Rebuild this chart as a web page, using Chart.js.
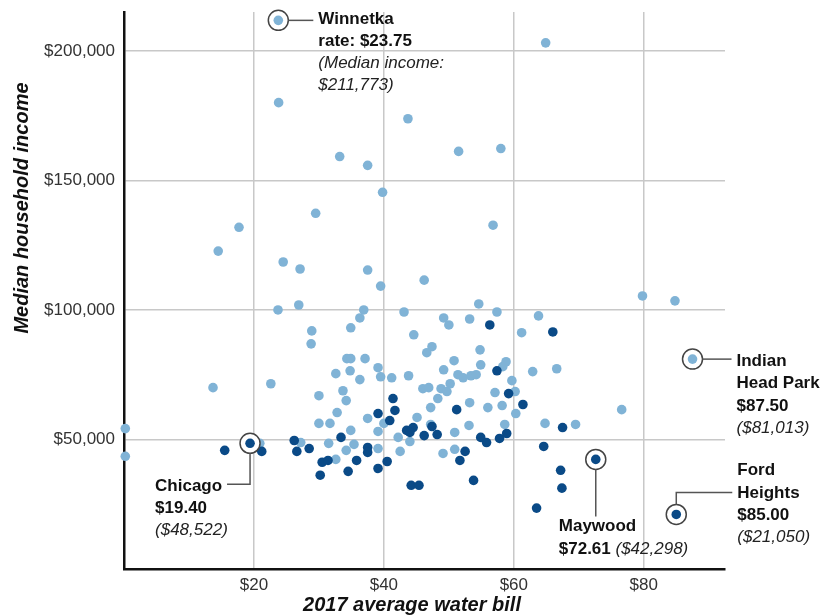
<!DOCTYPE html>
<html>
<head>
<meta charset="utf-8">
<title>Water bill vs. median income</title>
<script src="https://cdn.jsdelivr.net/npm/chart.js@4.4.1/dist/chart.umd.min.js"></script>
<style>
  html, body { margin: 0; padding: 0; background: #fff; }
  #wrap { width: 824px; height: 616px; position: relative; }
</style>
</head>
<body>
<div id="wrap"><canvas id="waterChart"></canvas></div>
<script>
// Municipalities, light dots (2017 average water bill in $, median household income in $)
const lightBill = [
  0.2, 0.2, 13.7, 22.6, 23.7, 26.9, 28.9, 28.8, 36.9, 36.3,
  34.9, 39.5, 43.1, 44.6, 34.3, 34.9, 37.1, 32.6, 34.8, 36.3,
  39.1, 39.5, 41.2, 43.8, 33.7, 34.2, 30.0, 32.8, 37.5, 40.0,
  30.0, 31.7, 34.9, 39.1, 20.9, 27.2, 31.5, 34.2, 35.4, 39.1,
  32.6, 42.5, 42.2, 44.0, 45.1, 47.2, 47.2, 48.3, 50.9, 50.9,
  49.1, 53.1, 49.2, 50.0, 53.2, 47.4, 46.6, 50.8, 49.2, 51.4,
  52.2, 53.4, 54.2, 46.0, 46.9, 48.8, 50.2, 49.7, 54.6, 57.4,
  63.8, 61.2, 54.8, 54.9, 58.8, 58.3, 62.9, 66.6, 59.7, 57.1,
  60.2, 53.2, 56.0, 58.2, 60.3, 58.6, 64.8, 69.5, 76.6, 79.8,
  84.8, 23.8, 43.7, 33.2, 37.5, 39.8, 29.5, 17.7, 14.5, 24.5,
  27.1, 37.5, 64.9, 51.5, 58.0, 56.8, 46.2
];
const lightIncome = [
  54200, 43500, 70000, 71500, 100000, 101900, 91900, 86900, 100000, 96900,
  93100, 109200, 99200, 90400, 81200, 81200, 81200, 75400, 76500, 73100,
  77700, 74200, 73800, 74600, 68800, 65000, 66900, 60400, 58100, 56200,
  56200, 56200, 53500, 53100, 48500, 48800, 48500, 45800, 48100, 46500,
  42300, 45400, 50800, 49200, 58500, 55800, 62300, 65800, 52700, 46200,
  44600, 55400, 96900, 94200, 96500, 85800, 83500, 80400, 76900, 75000,
  73800, 74600, 75000, 69600, 70000, 69600, 71500, 68500, 102300, 99200,
  97700, 91200, 84600, 78800, 80000, 78100, 76200, 77300, 72700, 68100,
  68500, 64200, 62300, 63100, 60000, 55800, 56200, 55800, 61500, 105400,
  103500, 180000, 173800, 159200, 155800, 145400, 137300, 131900, 122700, 118500,
  115800, 115400, 203100, 161200, 162300, 132700, 111500
];

// Municipalities, dark dots
const darkBill = [
  15.5, 21.2, 26.2, 26.6, 28.5, 30.5, 31.4, 30.2, 33.4, 35.8,
  34.5, 37.5, 37.5, 39.1, 40.5, 39.1, 40.9, 41.7, 41.4, 43.5,
  44.5, 44.0, 46.2, 47.4, 48.2, 51.2, 51.7, 52.5, 44.2, 45.4,
  53.8, 54.9, 55.8, 57.8, 58.9, 57.4, 59.2, 61.4, 56.3, 66.0,
  67.5, 64.6, 67.2, 67.4, 63.5
];
const darkIncome = [
  45800, 45400, 49600, 45400, 46500, 41200, 41900, 36200, 50800, 41900,
  37700, 46900, 45000, 38800, 41500, 60000, 57300, 61200, 65800, 53500,
  54600, 52700, 51500, 55000, 51900, 61500, 41900, 45400, 32300, 32300,
  34200, 50800, 48800, 50400, 52300, 76500, 67700, 63500, 94200, 91500,
  54600, 47300, 38100, 31200, 23500
];

// Labelled places
const placeNames = ['Winnetka', 'Chicago', 'Maywood', 'Indian Head Park', 'Ford Heights'];
const placeBill = [23.75, 19.40, 72.61, 87.50, 85.00];
const placeIncome = [211773, 48522, 42298, 81013, 21050];
const placeDark = [false, true, true, false, true];

// Tick values
const xTicks = [20, 40, 60, 80];
const yTicks = [50000, 100000, 150000, 200000];

const FONT = "'Liberation Sans', Arial, Helvetica, sans-serif";
const LIGHT = '#80b3d6';
const DARK = '#0a4a87';

Chart.defaults.font.family = FONT;

const fmtBill = v => '$' + v.toFixed(2);
const fmtIncome = v => '$' + v.toLocaleString('en-US');
const toPoints = (xs, ys) => xs.map((x, i) => ({ x: x, y: ys[i] }));

// Where each label sits relative to its dot (pixels)
function labelLayout(i) {
  const b = fmtBill(placeBill[i]);
  const inc = fmtIncome(placeIncome[i]);
  switch (placeNames[i]) {
    case 'Winnetka':
      return { path: [[10, 0], [35, 0]], x: 40,
        lines: [[4, [['b', 'Winnetka']]], [26, [['b', 'rate: ' + b]]],
                [48, [['i', '(Median income:']]], [70, [['i', inc + ')']]]] };
    case 'Chicago':
      return { path: [[0, 10], [0, 41], [-23, 41]], x: -95,
        lines: [[48, [['b', 'Chicago']]], [70, [['b', b]]], [92, [['i', '(' + inc + ')']]]] };
    case 'Maywood':
      return { path: [[0, 10], [0, 57]], x: -37,
        lines: [[72, [['b', 'Maywood']]], [95, [['b', b], ['i', ' (' + inc + ')']]]] };
    case 'Indian Head Park':
      return { path: [[10, 0], [39, 0]], x: 44,
        lines: [[7, [['b', 'Indian']]], [29, [['b', 'Head Park']]], [52, [['b', b]]], [74, [['i', '(' + inc + ')']]]] };
    case 'Ford Heights':
      return { path: [[0, -10], [0, -22], [56, -22]], x: 61,
        lines: [[-39, [['b', 'Ford']]], [-16, [['b', 'Heights']]], [6, [['b', b]]], [28, [['i', '(' + inc + ')']]]] };
  }
}

const labelPlugin = {
  id: 'placeLabels',
  afterDatasetsDraw(chart) {
    const { ctx, scales: { x, y } } = chart;
    ctx.save();
    placeNames.forEach((name, i) => {
      const px = x.getPixelForValue(placeBill[i]);
      const py = y.getPixelForValue(placeIncome[i]);
      const lay = labelLayout(i);
      ctx.strokeStyle = '#555';
      ctx.lineWidth = 1.5;
      ctx.beginPath();
      lay.path.forEach((p, k) => {
        if (k === 0) ctx.moveTo(px + p[0], py + p[1]);
        else ctx.lineTo(px + p[0], py + p[1]);
      });
      ctx.stroke();
      ctx.textAlign = 'left';
      ctx.textBaseline = 'alphabetic';
      lay.lines.forEach(([dy, parts]) => {
        let tx = px + lay.x;
        parts.forEach(([style, text]) => {
          ctx.font = (style === 'b' ? 'bold ' : 'italic ') + '17px ' + FONT;
          ctx.fillStyle = style === 'b' ? '#111' : '#222';
          ctx.fillText(text, tx, py + dy);
          tx += ctx.measureText(text).width;
        });
      });
    });
    ctx.restore();
  },
  afterDraw(chart) {
    const { ctx, chartArea } = chart;
    ctx.save();
    ctx.font = 'italic bold 20px ' + FONT;
    ctx.fillStyle = '#111';
    ctx.textAlign = 'center';
    ctx.textBaseline = 'middle';
    ctx.fillText('2017 average water bill', chartArea.left + 288, chartArea.bottom + 36);
    ctx.translate(22, chartArea.top + 196);
    ctx.rotate(-Math.PI / 2);
    ctx.fillText('Median household income', 0, 0);
    ctx.restore();
  }
};

const ctx = document.getElementById('waterChart').getContext('2d');
new Chart(ctx, {
  type: 'scatter',
  data: {
    datasets: [
      {
        label: 'highlight',
        data: toPoints(placeBill, placeIncome),
        pointRadius: 4.8,
        pointBackgroundColor: placeDark.map(d => d ? DARK : LIGHT),
        pointBorderWidth: 0,
        order: 1,
        clip: false
      },
      {
        label: 'rings',
        data: toPoints(placeBill, placeIncome),
        pointRadius: 10,
        pointBackgroundColor: '#fff',
        pointBorderColor: '#444',
        pointBorderWidth: 1.5,
        order: 2,
        clip: false
      },
      {
        label: 'dark',
        data: toPoints(darkBill, darkIncome),
        pointRadius: 4.8,
        pointBackgroundColor: DARK,
        pointBorderWidth: 0,
        order: 3,
        clip: false
      },
      {
        label: 'light',
        data: toPoints(lightBill, lightIncome),
        pointRadius: 4.8,
        pointBackgroundColor: LIGHT,
        pointBorderWidth: 0,
        order: 4,
        clip: false
      }
    ]
  },
  options: {
    responsive: true,
    maintainAspectRatio: false,
    animation: false,
    events: [],
    layout: { padding: { top: 12, right: 99, left: 0, bottom: 0 } },
    plugins: {
      legend: { display: false },
      tooltip: { enabled: false }
    },
    scales: {
      x: {
        type: 'linear',
        min: 0,
        max: 92.5,
        afterFit: s => { s.height = 47; s.paddingLeft = 0; s.paddingRight = 0; },
        afterBuildTicks: s => { s.ticks = [0].concat(xTicks).map(v => ({ value: v })); },
        ticks: {
          padding: 6,
          color: '#333',
          font: { size: 17 },
          callback: v => v === 0 ? '' : '$' + v
        },
        grid: { color: '#c8c8c8', lineWidth: 1.5, drawTicks: false },
        border: { color: '#111', width: 2.5 }
      },
      y: {
        type: 'linear',
        min: 0,
        max: 215000,
        afterFit: s => { s.width = 124; s.paddingTop = 0; s.paddingBottom = 0; },
        afterBuildTicks: s => { s.ticks = [0].concat(yTicks).map(v => ({ value: v })); },
        ticks: {
          padding: 9,
          color: '#333',
          font: { size: 17 },
          callback: v => v === 0 ? '' : fmtIncome(v)
        },
        grid: { color: '#c8c8c8', lineWidth: 1.5, drawTicks: false },
        border: { color: '#111', width: 2.5 }
      }
    }
  },
  plugins: [labelPlugin]
});
</script>
</body>
</html>
